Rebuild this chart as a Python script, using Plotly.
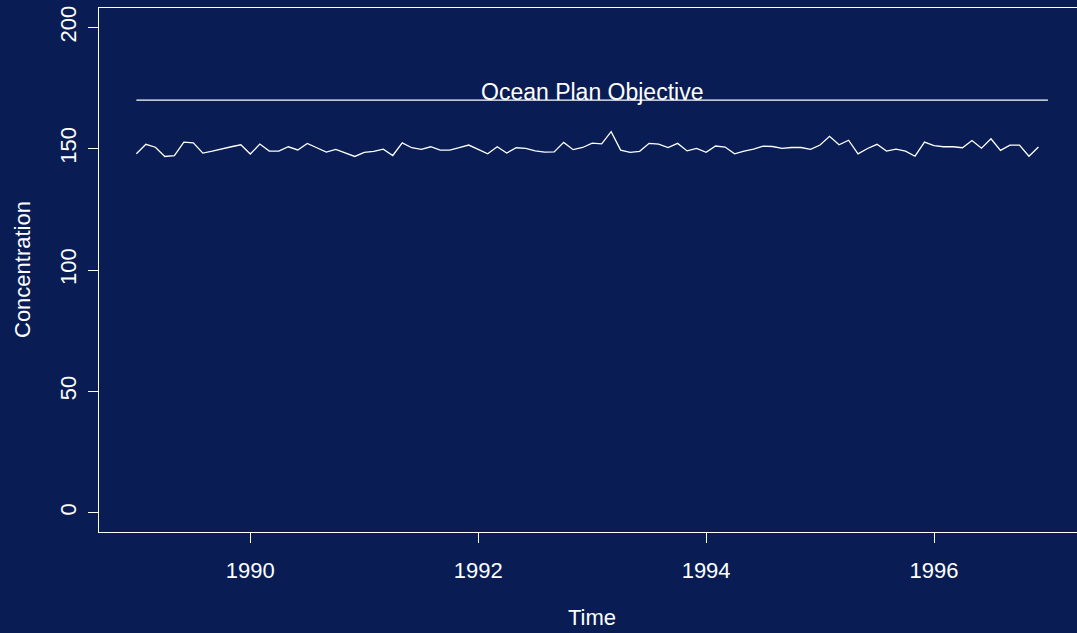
import plotly.graph_objects as go

start_year = 1989
months_per_year = 12
concentration = [
    147.9, 151.8, 150.6, 146.8, 147.1, 152.7, 152.4, 148.2, 149.0, 150.0, 150.8, 151.6,
    147.8, 151.9, 149.0, 149.0, 150.8, 149.5, 152.2, 150.4, 148.6, 149.7, 148.2, 146.8,
    148.5, 148.9, 149.8, 147.2, 152.4, 150.4, 149.7, 150.8, 149.4, 149.4, 150.4, 151.5,
    149.7, 147.9, 150.8, 148.2, 150.4, 150.1, 149.1, 148.6, 148.7, 152.6, 149.6, 150.5,
    152.3, 152.0, 157.0, 149.4, 148.5, 148.9, 152.2, 151.9, 150.5, 152.2, 149.1, 150.1,
    148.5, 151.1, 150.7, 147.9, 149.0, 149.8, 151.1, 150.9, 150.1, 150.5, 150.5, 149.7,
    151.5, 155.1, 151.6, 153.5, 147.9, 150.1, 151.8, 149.0, 149.8, 149.0, 146.9, 152.7,
    151.3, 150.8, 150.8, 150.4, 153.4, 150.2, 154.1, 149.3, 151.5, 151.5, 146.9, 150.7,
]
time = [start_year + i / months_per_year for i in range(len(concentration))]

objective_x = [1989, 1997]
objective_y = [170, 170]
objective_label = "Ocean Plan Objective"

x_ticks = [1990, 1992, 1994, 1996]
y_ticks = [0, 50, 100, 150, 200]

BG = "#091d54"
FONT = "Liberation Sans, Arial, sans-serif"

fig = go.Figure()
fig.add_trace(go.Scatter(x=time, y=concentration, mode="lines",
                         line=dict(color="white", width=1.3), hoverinfo="skip"))
fig.add_trace(go.Scatter(x=objective_x, y=objective_y, mode="lines",
                         line=dict(color="white", width=1.3), hoverinfo="skip"))

fig.add_annotation(x=1993, y=173.2, xref="x", yref="y", text=objective_label,
                   showarrow=False, font=dict(size=23, color="white", family=FONT),
                   xanchor="center", yanchor="middle")
fig.add_annotation(x=1993, y=0, xref="x", yref="paper", text="Time",
                   showarrow=False, font=dict(size=22, color="white", family=FONT),
                   xanchor="center", yanchor="middle", yshift=-85)
fig.add_annotation(x=0, y=100, xref="paper", yref="y", text="Concentration",
                   showarrow=False, font=dict(size=22, color="white", family=FONT),
                   textangle=-90, xanchor="center", yanchor="middle", xshift=-77)

fig.update_layout(
    width=1077, height=633, autosize=False,
    margin=dict(l=98.5, r=0, t=8, b=101, pad=0),
    paper_bgcolor=BG, plot_bgcolor=BG,
    showlegend=False,
    font=dict(family=FONT, size=22, color="white"),
    xaxis=dict(range=[1988.672, 1997.255], tickvals=x_ticks, ticks="outside",
               ticklen=10, tickwidth=1, tickcolor="white", showgrid=False,
               zeroline=False, showline=True, linecolor="white", linewidth=1,
               mirror=True, tickfont=dict(size=22, color="white", family=FONT),
               ticklabelstandoff=9),
    yaxis=dict(range=[-8, 208], tickvals=y_ticks, ticks="outside",
               ticklen=10, tickwidth=1, tickcolor="white", showgrid=False,
               zeroline=False, showline=True, linecolor="white", linewidth=1,
               mirror=False, tickangle=-90,
               tickfont=dict(size=22, color="white", family=FONT),
               ticklabelstandoff=3),
)

fig.write_html("out.html", config={"displayModeBar": False},
               post_script="document.body.style.margin='0';")
